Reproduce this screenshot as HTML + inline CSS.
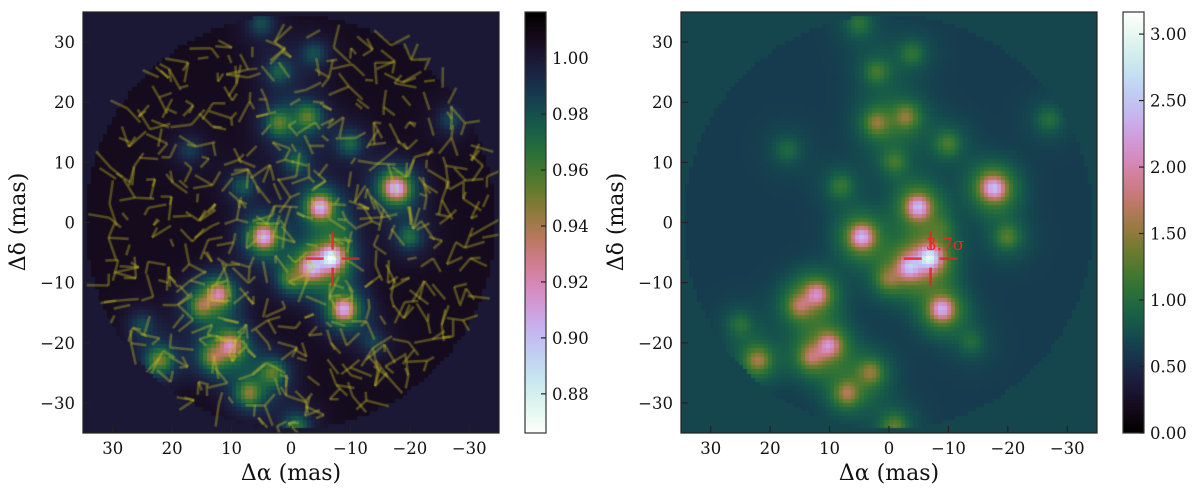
<!DOCTYPE html>
<html><head><meta charset="utf-8"><style>
body{margin:0;width:1200px;height:489px;background:#fff;overflow:hidden;position:relative;font-family:"DejaVu Serif","Liberation Serif",serif}
canvas{position:absolute}
svg{position:absolute;left:0;top:0}
</style></head><body>
<canvas id="mapL" width="416" height="421" style="left:83px;top:12px"></canvas>
<canvas id="mapR" width="416" height="421" style="left:681px;top:12px"></canvas>
<canvas id="cbL" width="21" height="421" style="left:525px;top:12px"></canvas>
<canvas id="cbR" width="21" height="421" style="left:1123px;top:12px"></canvas>
<svg id="ov" width="1200" height="489"></svg>
<script>
// source blobs: alpha (mas), delta (mas), amplitude (sigma)
const srcA=[-7,-3.5,0,4.5,-5,-18,12,15,-9,10,22,13,7,3,-1,2,-3,2,-10,-20,-1,-4,8,-27,17,25,5,-14,-17,-9];
const srcD=[-6,-7.5,-9.5,-2.5,2.5,5.5,-12,-14,-14.5,-20.5,-23,-22.5,-28.5,-25,-34,16.5,17.5,25,13,-2.5,10,28,6,17,12,-17,33,-20,6,-1];
const srcAmp=[2.1,1.45,0.7,1.8,1.8,1.35,1.35,0.9,1.75,1.4,1.0,0.9,1.0,0.85,0.7,0.85,0.85,0.55,0.6,0.65,0.55,0.45,0.5,0.4,0.35,0.4,0.45,0.35,0.6,0.3];
const xTicks=[30,20,10,0,-10,-20,-30];
const yTicks=[30,20,10,0,-10,-20,-30];
const cbLTicks=[0.88,0.90,0.92,0.94,0.96,0.98,1.00];
const cbRTicks=[0.00,0.50,1.00,1.50,2.00,2.50,3.00];
const cbLRange=[0.866,1.0165];
const cbRRange=[0,3.166];

function cubehelix(f){
  f=Math.max(0,Math.min(1,f));
  const a=f*(1-f)/2, phi=2*Math.PI*(0.5/3-1.5*f), c=Math.cos(phi), s=Math.sin(phi);
  const r=f+a*(-0.14861*c+1.78277*s), g=f+a*(-0.29227*c-0.90649*s), b=f+a*(1.97294*c);
  const cl=v=>Math.round(255*Math.max(0,Math.min(1,v)));
  return 'rgb('+cl(r)+','+cl(g)+','+cl(b)+')';
}
function sig(a,d){
  let s=0.62;
  for(let i=0;i<srcA.length;i++){
    const dx=a-srcA[i],dy=d-srcD[i],r2=dx*dx+dy*dy;
    s+=srcAmp[i]*(0.62*Math.exp(-r2/(2*1.3*1.3))+0.38*Math.exp(-r2/(2*3.0*3.0)));
  }
  return s;
}
const W=416,H=421,N=100,cell=0.7,R=34.5;
function drawMap(id,left){
  const ctx=document.getElementById(id).getContext('2d');
  for(let i=0;i<N;i++)for(let j=0;j<N;j++){
    const a=35-(i+0.5)*cell, d=35-(j+0.5)*cell;
    const inside=a*a+d*d<=R*R;
    let v,f;
    if(left){
      v=inside?1.007-0.058*(sig(a,d)-0.62):1.0;
      f=(cbLRange[1]-v)/(cbLRange[1]-cbLRange[0]);
    }else{
      v=inside?sig(a,d):0.7;
      f=(v-cbRRange[0])/(cbRRange[1]-cbRRange[0]);
    }
    ctx.fillStyle=cubehelix(f);
    const x0=Math.floor(i*W/N),x1=Math.ceil((i+1)*W/N),y0=Math.floor(j*H/N),y1=Math.ceil((j+1)*H/N);
    ctx.fillRect(x0,y0,x1-x0,y1-y0);
  }
  if(left){
    // vector texture (seeded)
    let seed=12345;const rnd=()=>{seed=(seed*1103515245+12345)%2147483648;return seed/2147483648;};
    ctx.strokeStyle='rgba(200,190,40,0.36)';ctx.lineWidth=2.6;ctx.lineCap='butt';
    for(let gx=-33;gx<=33;gx+=3.3)for(let gy=-33;gy<=33;gy+=3.3){
      const cx=gx+(rnd()-0.5)*2.2, cy=gy+(rnd()-0.5)*2.2;
      if(cx*cx+cy*cy>(R-0.5)*(R-0.5))continue;
      const n=1+Math.floor(rnd()*3);
      for(let k=0;k<n;k++){
        const ang=rnd()*Math.PI*2, L=1.2+rnd()*2.8;
        const px=(35-cx)/70*W, py=(35-cy)/70*H;
        ctx.beginPath();ctx.moveTo(px,py);ctx.lineTo(px-Math.cos(ang)*L*W/70,py-Math.sin(ang)*L*H/70);ctx.stroke();
      }
    }
  }
}
drawMap('mapL',true);drawMap('mapR',false);
function drawCb(id,left){
  const ctx=document.getElementById(id).getContext('2d');
  for(let y=0;y<H;y++){ctx.fillStyle=cubehelix(left?y/H:1-y/H);ctx.fillRect(0,y,21,1);}
}
drawCb('cbL',true);drawCb('cbR',false);

const NS='http://www.w3.org/2000/svg',ov=document.getElementById('ov');
function el(t,at,txt){const e=document.createElementNS(NS,t);for(const k in at)e.setAttribute(k,at[k]);if(txt!==undefined)e.textContent=txt;ov.appendChild(e);return e;}
function panel(x0,pref){
  const xp=a=>x0+(35-a)/70*W, yp=d=>12+(35-d)/70*H;
  const cx=xp(-7),cy=yp(-6);
  const cr=[[xp(-2.5),cy,xp(-5.5),cy],[xp(-8.5),cy,xp(-11.5),cy],[cx,yp(-1.5),cx,yp(-4.5)],[cx,yp(-7.5),cx,yp(-10.5)]];
  cr.forEach(c=>{const l=el('line',{x1:c[0],y1:c[1],x2:c[2],y2:c[3],stroke:'#e8202a','stroke-width':2.5,opacity:0.85});
    
    });
  if(pref==='right'){const t=el('text',{x:xp(-6.2),y:yp(-4.6),fill:'#ff2020','font-size':17},'3.7σ');
    
    }
  const fr=el('rect',{x:x0,y:12,width:W,height:H,fill:'none',stroke:'#222','stroke-width':1.2});
  
  
  xTicks.forEach(v=>{const x=xp(v);
    el('line',{x1:x,y1:433,x2:x,y2:426,stroke:'#222','stroke-width':1.2});
    const t=el('text',{x:x,y:454,'text-anchor':'middle','font-size':16.5,fill:'#111'},v<0?'\u2212'+(-v):String(v));
    
    });
  yTicks.forEach(v=>{const y=yp(v);
    el('line',{x1:x0,y1:y,x2:x0+7,y2:y,stroke:'#222','stroke-width':1.2});
    const t=el('text',{x:x0-8,y:y+6,'text-anchor':'end','font-size':16.5,fill:'#111'},v<0?'\u2212'+(-v):String(v));
    
    });
  const xl=el('text',{x:x0+W/2,y:480,'text-anchor':'middle','font-size':22,fill:'#111'},'Δα (mas)');
  
  
  const yl=el('text',{x:0,y:0,'text-anchor':'middle','font-size':22,fill:'#111',transform:'translate('+(x0-58)+',222) rotate(-90)'},'Δδ (mas)');
  
  
}
panel(83,'left');panel(681,'right');
function cbAxis(x0,ticks,rng,pref){
  const fr=el('rect',{x:x0,y:12,width:21,height:H,fill:'none',stroke:'#333','stroke-width':1.2});
  
  
  ticks.forEach(v=>{const y=12+(rng[1]-v)/(rng[1]-rng[0])*H;
    el('line',{x1:x0+21,y1:y,x2:x0+16,y2:y,stroke:'#222','stroke-width':1.2});
    const t=el('text',{x:x0+27,y:y+6,'font-size':16.5,fill:'#111'},v.toFixed(2));
    
    });
}
cbAxis(525,cbLTicks,cbLRange,'left');cbAxis(1123,cbRTicks,cbRRange,'right');
</script>
</body></html>
